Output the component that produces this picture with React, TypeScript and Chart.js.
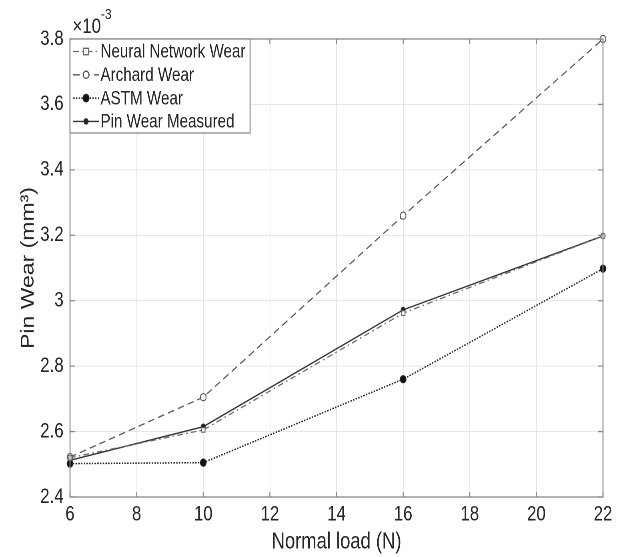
import React, { useEffect, useRef } from 'react';
import { Chart, registerables } from 'chart.js';
Chart.register(...registerables);

const loads = [6, 10, 16, 22];
const neuralNetworkWear = [2.52, 2.605, 2.962, 3.198];
const archardWear = [2.522, 2.705, 3.26, 3.8];
const astmWear = [2.502, 2.505, 2.76, 3.098];
const pinWearMeasured = [2.512, 2.615, 2.972, 3.198];
const seriesNames = ['Neural Network Wear', 'Archard Wear', 'ASTM Wear', 'Pin Wear Measured'];
const xTicks = [6, 8, 10, 12, 14, 16, 18, 20, 22];
const yTicks = [2.4, 2.6, 2.8, 3.0, 3.2, 3.4, 3.6, 3.8];
const exponentLabel = '×10';
const exponentSup = '-3';

// The figure is drawn on a wider canvas and displayed horizontally compressed
const VIEW_W = 621;
const VIEW_H = 557;
const CANVAS_W = 776;

const FONT = '"Liberation Sans", Arial, sans-serif';
const TEXT = '#262626';

const styles = [
  { color: '#6a6a6a', dash: [7, 4, 2, 4], point: 'rect', radius: 3.2, fill: '#ffffff', width: 1.3 },
  { color: '#555555', dash: [8, 5], point: 'circle', radius: 3.6, fill: '#ffffff', width: 1.3 },
  { color: '#222222', dash: [1.8, 1.6], point: 'circle', radius: 3.6, fill: '#111111', width: 1.5 },
  { color: '#333333', dash: [], point: 'circle', radius: 2.6, fill: '#222222', width: 1.4 },
];

const toPoints = (vals: number[]) => loads.map((x, i) => ({ x, y: vals[i] }));

const decorPlugin = {
  id: 'decor',
  afterDraw(chart: any) {
    const { ctx, chartArea: a, scales } = chart;
    const xs = scales.x, ys = scales.y;
    ctx.save();
    ctx.strokeStyle = '#8a8a8a';
    ctx.lineWidth = 1.3;
    ctx.setLineDash([]);
    ctx.strokeRect(a.left, a.top, a.right - a.left, a.bottom - a.top);
    ctx.beginPath();
    xTicks.forEach((t) => {
      const px = xs.getPixelForValue(t);
      ctx.moveTo(px, a.bottom); ctx.lineTo(px, a.bottom - 5);
      ctx.moveTo(px, a.top); ctx.lineTo(px, a.top + 5);
    });
    yTicks.forEach((t) => {
      const py = ys.getPixelForValue(t);
      ctx.moveTo(a.left, py); ctx.lineTo(a.left + 6, py);
      ctx.moveTo(a.right, py); ctx.lineTo(a.right - 6, py);
    });
    ctx.stroke();
    // exponent
    ctx.fillStyle = TEXT;
    ctx.textBaseline = 'alphabetic';
    ctx.textAlign = 'left';
    ctx.font = `21px ${FONT}`;
    ctx.fillText(exponentLabel, a.left + 3, a.top - 6);
    const w = ctx.measureText(exponentLabel).width;
    ctx.font = `15px ${FONT}`;
    ctx.fillText(exponentSup, a.left + 3 + w, a.top - 20);
    // legend
    const lx = a.left, ly = a.top;
    const lw = 225, lh = 94;
    ctx.fillStyle = '#ffffff';
    ctx.fillRect(lx, ly, lw, lh);
    ctx.strokeStyle = '#8a8a8a';
    ctx.lineWidth = 1.3;
    ctx.strokeRect(lx, ly, lw, lh);
    ctx.font = `19px ${FONT}`;
    ctx.textBaseline = 'middle';
    seriesNames.forEach((name, i) => {
      const s = styles[i];
      const cy = ly + 12.5 + i * 23.3;
      ctx.strokeStyle = s.color;
      ctx.lineWidth = s.width;
      ctx.setLineDash(s.dash);
      ctx.beginPath();
      ctx.moveTo(lx + 4, cy);
      ctx.lineTo(lx + 36, cy);
      ctx.stroke();
      ctx.setLineDash([]);
      ctx.fillStyle = s.fill;
      ctx.beginPath();
      const r = s.radius;
      if (s.point === 'rect') ctx.rect(lx + 20 - r, cy - r, 2 * r, 2 * r);
      else ctx.arc(lx + 20, cy, r, 0, Math.PI * 2);
      ctx.fill();
      ctx.stroke();
      ctx.fillStyle = TEXT;
      ctx.fillText(name, lx + 38, cy + 1);
    });
    ctx.restore();
  },
};

export default function App() {
  const ref = useRef<HTMLCanvasElement | null>(null);
  useEffect(() => {
    document.body.style.margin = '0';
    const datasets = [neuralNetworkWear, archardWear, astmWear, pinWearMeasured].map((vals, i) => ({
      label: seriesNames[i],
      data: toPoints(vals),
      borderColor: styles[i].color,
      borderWidth: styles[i].width,
      borderDash: styles[i].dash,
      pointStyle: styles[i].point as any,
      pointRadius: styles[i].radius,
      pointBackgroundColor: styles[i].fill,
      pointBorderColor: styles[i].color,
      pointBorderWidth: 1.1,
      tension: 0,
      fill: false,
      clip: false as any,
    }));
    const chart = new Chart(ref.current!, {
      type: 'line',
      data: { datasets },
      options: {
        animation: false,
        responsive: false,
        devicePixelRatio: 2,
        layout: { padding: { top: 39, right: 22.5, left: 0, bottom: 0 } },
        plugins: { legend: { display: false }, tooltip: { enabled: false } },
        scales: {
          x: {
            type: 'linear',
            min: 6,
            max: 22,
            afterBuildTicks: (s: any) => { s.ticks = xTicks.map((v) => ({ value: v })); },
            afterFit: (s: any) => { s.height = 60; },
            grid: { color: '#e6e6e6', drawTicks: false },
            border: { display: false },
            ticks: { color: TEXT, font: { family: FONT, size: 21 }, padding: 5, maxRotation: 0 },
            title: { display: true, text: 'Normal load (N)', color: TEXT, font: { family: FONT, size: 23 }, padding: { top: 0, bottom: 1 } },
          },
          y: {
            type: 'linear',
            min: 2.4,
            max: 3.8,
            afterBuildTicks: (s: any) => { s.ticks = yTicks.map((v) => ({ value: v })); },
            afterFit: (s: any) => { s.width = 87.5; },
            grid: { color: '#e6e6e6', drawTicks: false },
            border: { display: false },
            ticks: {
              color: TEXT,
              font: { family: FONT, size: 21 },
              padding: 8,
              callback: (v: any) => String(Number(Number(v).toFixed(1))),
            },
            title: { display: true, text: 'Pin Wear (mm³)', color: TEXT, font: { family: FONT, size: 23 }, padding: { top: 22, bottom: 0 } },
          },
        },
      },
      plugins: [decorPlugin],
    });
    return () => chart.destroy();
  }, []);
  return (
    <canvas
      ref={ref}
      width={CANVAS_W}
      height={VIEW_H}
      style={{ display: 'block', width: `${VIEW_W}px`, height: `${VIEW_H}px` }}
    />
  );
}
